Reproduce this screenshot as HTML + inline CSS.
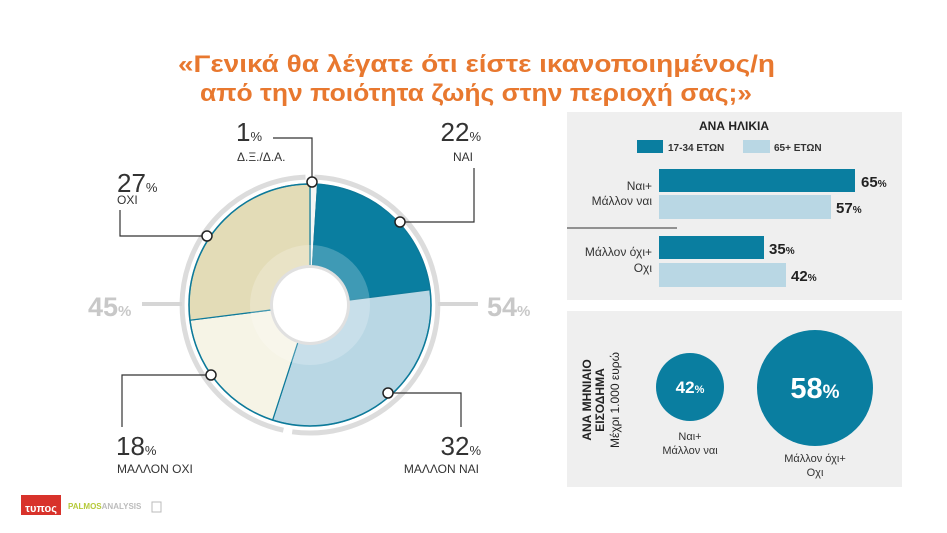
<!DOCTYPE html>
<html><head><meta charset="utf-8"><style>
body{margin:0;width:947px;height:533px;background:#fff;overflow:hidden;font-family:"Liberation Sans","DejaVu Sans",sans-serif}
svg{position:absolute;left:0;top:0}
</style></head><body>
<svg width="947" height="533" viewBox="0 0 947 533" xmlns="http://www.w3.org/2000/svg" font-family="Liberation Sans, DejaVu Sans, sans-serif">
<!-- title -->
<text x="178" y="72" font-size="24" font-weight="bold" fill="#e8782f" textLength="597" lengthAdjust="spacingAndGlyphs">«Γενικά θα λέγατε ότι είστε ικανοποιημένος/η</text>
<text x="200" y="101" font-size="24" font-weight="bold" fill="#e8782f" textLength="552" lengthAdjust="spacingAndGlyphs">από την ποιότητα ζωής στην περιοχή σας;»</text>

<!-- grey outer ring -->
<path d="M314.5,177.1 A128,128 0 1 1 292.2,431.8" fill="none" stroke="#dcdcdc" stroke-width="5"/>
<path d="M283.4,430.2 A128,128 0 0 1 305.5,177.1" fill="none" stroke="#dcdcdc" stroke-width="5"/>
<line x1="142" y1="304" x2="182" y2="304" stroke="#d6d6d6" stroke-width="4"/>
<line x1="438" y1="304" x2="478" y2="304" stroke="#d6d6d6" stroke-width="4"/>
<text x="88" y="316" font-size="27" font-weight="bold" fill="#c8c8c8">45<tspan font-size="15">%</tspan></text>
<text x="487" y="316" font-size="27" font-weight="bold" fill="#c8c8c8">54<tspan font-size="15">%</tspan></text>

<!-- pie -->
<g stroke="#0d7a9a" stroke-width="1.2">
<path d="M310,305 L310,184 A121,121 0 0 1 317.6,184.2 Z" fill="#f4f6f4"/>
<path d="M310,305 L317.6,184.2 A121,121 0 0 1 430,289.8 Z" fill="#0a7ea0"/>
<path d="M310,305 L430,289.8 A121,121 0 0 1 272.6,420.1 Z" fill="#b9d7e4"/>
<path d="M310,305 L272.6,420.1 A121,121 0 0 1 190,320.2 Z" fill="#f6f4e6"/>
<path d="M310,305 L190,320.2 A121,121 0 0 1 310,184 Z" fill="#e3dcb7"/>
</g>
<circle cx="310" cy="305" r="121" fill="none" stroke="#0d7a9a" stroke-width="1.5"/>
<circle cx="310" cy="305" r="60" fill="#fff" opacity="0.22"/>
<circle cx="310" cy="305" r="40" fill="#e0e0e0"/>
<circle cx="310" cy="305" r="37" fill="#fff"/>

<!-- connectors -->
<g fill="none" stroke="#333" stroke-width="1.2">
<polyline points="273,138 312,138 312,182"/>
<polyline points="400,222 474,222 474,168"/>
<polyline points="207,236 120,236 120,210"/>
<polyline points="211,375 122,375 122,427"/>
<polyline points="388,393 461,393 461,427"/>
</g>
<g fill="#fff" stroke="#222" stroke-width="1.5">
<circle cx="312" cy="182" r="5"/>
<circle cx="400" cy="222" r="5"/>
<circle cx="207" cy="236" r="5"/>
<circle cx="211" cy="375" r="5"/>
<circle cx="388" cy="393" r="5"/>
</g>

<!-- labels -->
<g fill="#333" font-weight="300">
<text x="236" y="141" font-size="26">1<tspan font-size="13">%</tspan></text>
<text x="237" y="161" font-size="12">Δ.Ξ./Δ.Α.</text>
<text x="481" y="141" font-size="26" text-anchor="end">22<tspan font-size="13">%</tspan></text>
<text x="473" y="161" font-size="12" text-anchor="end">ΝΑΙ</text>
<text x="117" y="192" font-size="26">27<tspan font-size="13">%</tspan></text>
<text x="117" y="204" font-size="12">ΟΧΙ</text>
<text x="116" y="455" font-size="26">18<tspan font-size="13">%</tspan></text>
<text x="117" y="473" font-size="12">ΜΑΛΛΟΝ ΟΧΙ</text>
<text x="481" y="455" font-size="26" text-anchor="end">32<tspan font-size="13">%</tspan></text>
<text x="479" y="473" font-size="12" text-anchor="end">ΜΑΛΛΟΝ ΝΑΙ</text>
</g>

<!-- age panel -->
<rect x="567" y="112" width="335" height="188" fill="#efefef"/>
<text x="734" y="130" text-anchor="middle" font-size="12" font-weight="bold" fill="#222">ΑΝΑ ΗΛΙΚΙΑ</text>
<rect x="637" y="140" width="26" height="13" fill="#0a7ea0"/>
<text x="668" y="151" font-size="10" font-weight="bold" fill="#333">17-34 ΕΤΩΝ</text>
<rect x="743" y="140" width="27" height="13" fill="#b9d7e4"/>
<text x="774" y="151" font-size="10" font-weight="bold" fill="#333">65+ ΕΤΩΝ</text>
<rect x="659" y="169" width="196" height="23" fill="#0a7ea0"/>
<rect x="659" y="195" width="172" height="24" fill="#b9d7e4"/>
<rect x="659" y="236" width="105" height="23" fill="#0a7ea0"/>
<rect x="659" y="263" width="127" height="24" fill="#b9d7e4"/>
<line x1="567" y1="228" x2="677" y2="228" stroke="#333" stroke-width="1"/>
<g font-size="12" fill="#333" text-anchor="end">
<text x="652" y="190">Ναι+</text>
<text x="652" y="205">Μάλλον ναι</text>
<text x="652" y="256">Μάλλον όχι+</text>
<text x="652" y="272">Οχι</text>
</g>
<g font-size="15" font-weight="bold" fill="#222">
<text x="861" y="187">65<tspan font-size="10">%</tspan></text>
<text x="836" y="213">57<tspan font-size="10">%</tspan></text>
<text x="769" y="254">35<tspan font-size="10">%</tspan></text>
<text x="791" y="281">42<tspan font-size="10">%</tspan></text>
</g>

<!-- income panel -->
<rect x="567" y="311" width="335" height="176" fill="#efefef"/>
<g transform="translate(591,400) rotate(-90)" text-anchor="middle" fill="#222">
<text x="0" y="0" font-size="12" font-weight="bold">ΑΝΑ ΜΗΝΙΑΙΟ</text>
<text x="0" y="13" font-size="12" font-weight="bold">ΕΙΣΟΔΗΜΑ</text>
<text x="0" y="28" font-size="12">Μέχρι 1.000 ευρώ</text>
</g>
<circle cx="690" cy="387" r="34" fill="#0a7ea0"/>
<circle cx="815" cy="388" r="58" fill="#0a7ea0"/>
<text x="690" y="393" text-anchor="middle" font-size="17" font-weight="bold" fill="#fff">42<tspan font-size="11">%</tspan></text>
<text x="815" y="398" text-anchor="middle" font-size="29" font-weight="bold" fill="#fff">58<tspan font-size="19">%</tspan></text>
<g font-size="11" fill="#333" text-anchor="middle">
<text x="690" y="440">Ναι+</text>
<text x="690" y="454">Μάλλον ναι</text>
<text x="815" y="462">Μάλλον όχι+</text>
<text x="815" y="476">Οχι</text>
</g>

<!-- logos -->
<rect x="21" y="495" width="40" height="20" fill="#d8322b"/>
<text x="41" y="512" text-anchor="middle" font-size="11" font-weight="bold" fill="#fff">τυπος</text>
<text x="68" y="509" font-size="8" font-weight="bold" fill="#b5c93a">PALMOS<tspan fill="#bbb">ANALYSIS</tspan></text>
<rect x="152" y="502" width="9" height="10" fill="none" stroke="#bbb"/>
</svg>
</body></html>
